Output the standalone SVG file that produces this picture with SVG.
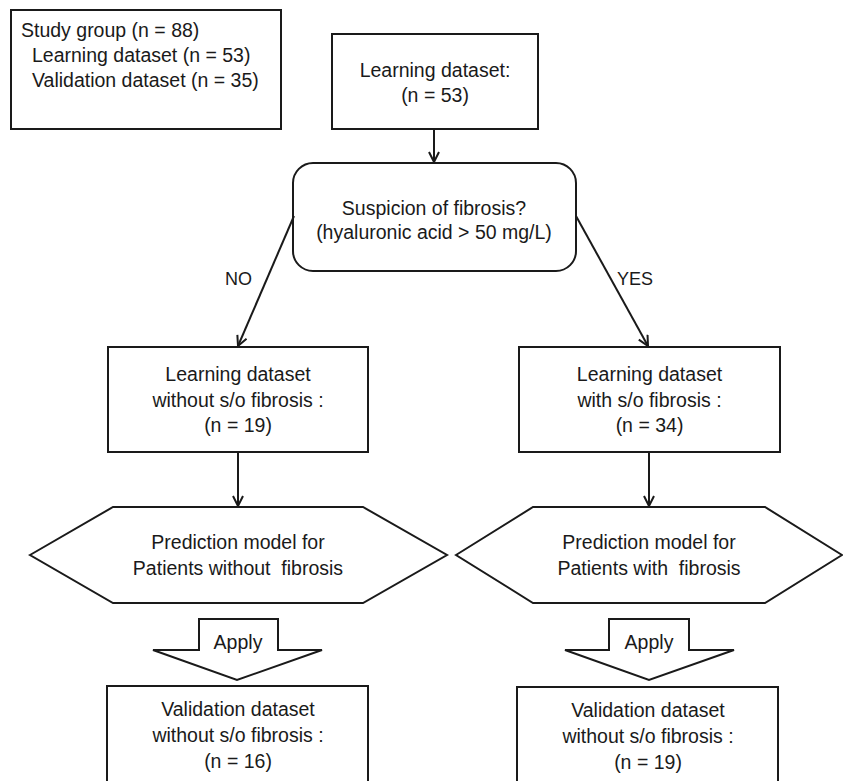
<svg xmlns="http://www.w3.org/2000/svg" width="843" height="781" viewBox="0 0 843 781">
<style>
.box{fill:#fff;stroke:#1a1a1a;stroke-width:2}
.t{font-family:"Liberation Sans",Arial,sans-serif;font-size:19.5px;fill:#1a1a1a;text-anchor:middle}
.tl{font-family:"Liberation Sans",Arial,sans-serif;font-size:19.5px;fill:#1a1a1a}
.c{fill:none;stroke:#1a1a1a;stroke-width:2}
</style>
<defs>
<marker id="ah" viewBox="0 0 12 12" refX="11" refY="6" markerWidth="12" markerHeight="12" markerUnits="userSpaceOnUse" orient="auto">
<path d="M1,1 L11,6 L1,11" fill="none" stroke="#1a1a1a" stroke-width="2"/>
</marker>
</defs>
<rect width="843" height="781" fill="#fff"/>
<g id="study">
<rect class="box" x="11" y="10" width="270" height="119"/>
<text class="tl" x="21" y="37">Study group (n = 88)</text>
<text class="tl" x="32" y="62">Learning dataset (n = 53)</text>
<text class="tl" x="32" y="87">Validation dataset (n = 35)</text>
</g>
<g id="learning">
<rect class="box" x="332" y="34" width="206" height="95"/>
<text class="t" x="435" y="77">Learning dataset:</text>
<text class="t" x="435" y="102">(n = 53)</text>
</g>
<g id="decision">
<rect class="box" x="293" y="163" width="283" height="108" rx="20" ry="20"/>
<text class="t" x="434" y="215">Suspicion of fibrosis?</text>
<text class="t" x="434" y="239">(hyaluronic acid &gt; 50 mg/L)</text>
</g>
<g id="learnNo">
<rect class="box" x="108" y="347" width="260" height="105"/>
<text class="t" x="238" y="381">Learning dataset</text>
<text class="t" x="238" y="407">without s/o fibrosis :</text>
<text class="t" x="238" y="432">(n = 19)</text>
</g>
<g id="learnYes">
<rect class="box" x="519" y="347" width="261" height="105"/>
<text class="t" x="649.5" y="381">Learning dataset</text>
<text class="t" x="649.5" y="407">with s/o fibrosis :</text>
<text class="t" x="649.5" y="432">(n = 34)</text>
</g>
<g id="modelNo">
<polygon class="box" points="30,555 113,507 363,507 447,555 363,603 113,603"/>
<text class="t" x="238" y="549">Prediction model for</text>
<text class="t" x="238" y="575">Patients without&#160; fibrosis</text>
</g>
<g id="modelYes">
<polygon class="box" points="456,555 533,507 765,507 842,555 765,603 533,603"/>
<text class="t" x="649" y="549">Prediction model for</text>
<text class="t" x="649" y="575">Patients with&#160; fibrosis</text>
</g>
<g id="applyNo">
<polygon class="box" points="199,619 278,619 278,650 322,650 237,680 153,650 199,650"/>
<text class="t" x="238" y="649">Apply</text>
</g>
<g id="applyYes">
<polygon class="box" points="609,619 689,619 689,650 734,650 649,680 565,650 609,650"/>
<text class="t" x="649" y="649">Apply</text>
</g>
<g id="validNo">
<rect class="box" x="107" y="686" width="261" height="120"/>
<text class="t" x="238" y="716">Validation dataset</text>
<text class="t" x="238" y="742">without s/o fibrosis :</text>
<text class="t" x="238" y="768">(n = 16)</text>
</g>
<g id="validYes">
<rect class="box" x="517" y="687" width="261" height="120"/>
<text class="t" x="648" y="717">Validation dataset</text>
<text class="t" x="648" y="743">without s/o fibrosis :</text>
<text class="t" x="648" y="769">(n = 19)</text>
</g>
<g id="connectors">
<line class="c" x1="434" y1="129" x2="434" y2="162" marker-end="url(#ah)"/>
<line class="c" x1="294" y1="216" x2="238" y2="346" marker-end="url(#ah)"/>
<line class="c" x1="576" y1="216" x2="648" y2="346" marker-end="url(#ah)"/>
<line class="c" x1="238" y1="452" x2="238" y2="506" marker-end="url(#ah)"/>
<line class="c" x1="649" y1="452" x2="649" y2="506" marker-end="url(#ah)"/>
<text class="tl" x="225" y="285" style="font-size:18px">NO</text>
<text class="tl" x="617" y="285" style="font-size:18px">YES</text>
</g>
</svg>
